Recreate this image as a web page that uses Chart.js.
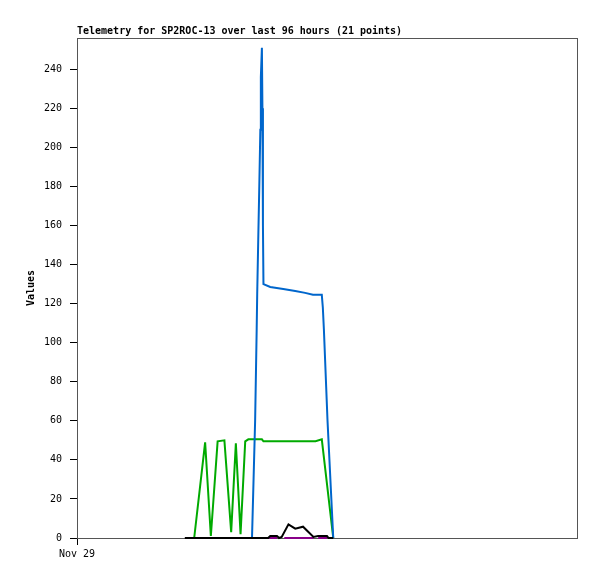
<!DOCTYPE html>
<html>
<head>
<meta charset="utf-8">
<script src="https://cdn.jsdelivr.net/npm/chart.js@4.4.1/dist/chart.umd.min.js"></script>
<style>
  html, body { margin: 0; padding: 0; background: #fff; }
  #wrap { width: 597px; height: 579px; }
</style>
</head>
<body>
<div id="wrap"><canvas id="chart" width="597" height="579"></canvas></div>
<script>
const chartTitle = 'Telemetry for SP2ROC-13 over last 96 hours (21 points)';
const yTitle = 'Values';
const xTickHours = [0];
const xTickLabels = ['Nov 29'];
const yTicks = [0, 20, 40, 60, 80, 100, 120, 140, 160, 180, 200, 220, 240];

// hours since Nov 29 00:00
const blueHours = [33.6, 34.2, 34.5, 34.6, 34.8, 35.0, 35.2, 35.3, 35.5, 35.6, 35.7, 35.8, 37.1, 39.6, 41.9, 43.8, 45.3, 47.0, 47.2, 47.4, 48.1, 49.2];
const blueValues = [0, 60, 107, 125, 153, 180, 209, 236, 251, 220, 160, 130, 128.5, 127.5, 126.5, 125.5, 124.5, 124.5, 118, 107, 60, 0];

const greenHours = [22.5, 24.6, 25.7, 27.0, 28.3, 29.6, 30.5, 31.4, 32.3, 32.9, 35.5, 35.8, 45.8, 47.0, 49.2];
const greenValues = [0, 49, 1, 49.5, 50, 3, 48.5, 2, 49.5, 50.5, 50.5, 49.5, 49.5, 50.5, 0];

const blackHours = [20.7, 36.7, 37.1, 38.4, 38.8, 39.3, 40.6, 41.9, 43.4, 45.4, 46.3, 48.0, 48.3, 49.2];
const blackValues = [0, 0, 1, 1, 0, 0.5, 7, 4.8, 5.8, 0.5, 1, 1, 0, 0];

const magentaHours = [36.9, 38.4, 39.0, 39.8, 45.4, 45.8, 46.3, 48.0];
const magentaValues = [0, 0, null, 0, 0, null, 0, 0];

const toPoints = (hs, vs) => hs.map((h, i) => ({ x: h, y: vs[i] }));

const monoFont = '"DejaVu Sans Mono", "Liberation Mono", monospace';

const frame = {
    id: 'frame',
    beforeDatasetsDraw(chart) {
        const { ctx, chartArea: a } = chart;
        ctx.save();
        ctx.strokeStyle = '#555555';
        ctx.lineWidth = 1;
        ctx.strokeRect(a.left + 0.5, a.top + 0.5, a.right - a.left, a.bottom - a.top);
        ctx.restore();
    },
    afterDraw(chart) {
        const { ctx, chartArea: a } = chart;
        ctx.save();
        ctx.font = 'bold 10px ' + monoFont;
        ctx.fillStyle = '#000';
        ctx.textBaseline = 'alphabetic';
        ctx.fillText(chartTitle, a.left, 34);
        ctx.restore();
    }
};

const line = (data, color) => ({
    data, borderColor: color, borderWidth: 2, pointRadius: 0,
    tension: 0, fill: false, spanGaps: false, clip: false
});

new Chart(document.getElementById('chart'), {
    type: 'line',
    data: {
        datasets: [
            line(toPoints(blackHours, blackValues), '#000000'),
            line(toPoints(magentaHours, magentaValues), '#880088'),
            line(toPoints(blueHours, blueValues), '#0066cc'),
            line(toPoints(greenHours, greenValues), '#00aa00')
        ]
    },
    options: {
        responsive: false,
        animation: false,
        layout: { padding: { top: 38, right: 20, left: 0, bottom: 0 } },
        plugins: { legend: { display: false }, tooltip: { enabled: false } },
        scales: {
            x: {
                type: 'linear', min: 0, max: 96,
                afterBuildTicks: s => { s.ticks = xTickHours.map(v => ({ value: v })); },
                afterFit: s => { s.height = 41; },
                border: { color: '#000', width: 1 },
                grid: { drawOnChartArea: false, color: '#000', tickLength: 7 },
                ticks: {
                    color: '#000', font: { family: monoFont, size: 10 }, padding: 3,
                    maxRotation: 0,
                    callback: v => xTickLabels[xTickHours.indexOf(v)] || ''
                }
            },
            y: {
                type: 'linear', min: 0, max: 256,
                afterBuildTicks: s => { s.ticks = yTicks.map(v => ({ value: v })); },
                afterFit: s => { s.width = 77; },
                border: { color: '#000', width: 1 },
                grid: { drawOnChartArea: false, color: '#000', tickLength: 7 },
                ticks: { color: '#000', font: { family: monoFont, size: 10 }, padding: 8 },
                title: {
                    display: true, text: yTitle, color: '#000',
                    font: { family: monoFont, size: 10, weight: 'bold' },
                    padding: { top: 25, bottom: 0 }
                }
            }
        }
    },
    plugins: [frame]
});
</script>
</body>
</html>
